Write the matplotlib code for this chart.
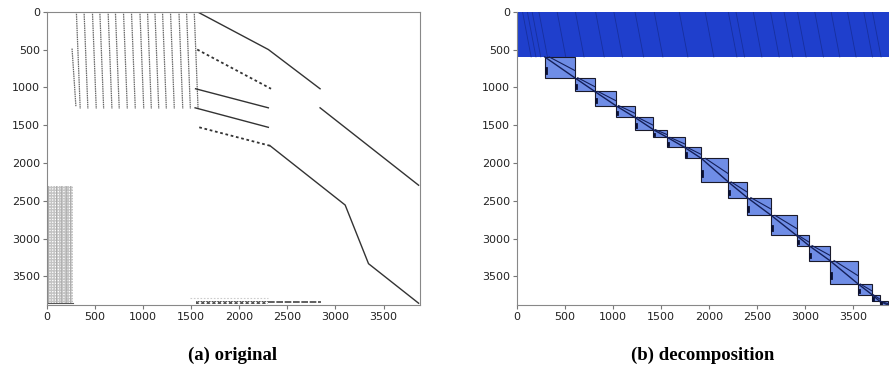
import matplotlib.pyplot as plt
from matplotlib.patches import Rectangle

N = 3880  # 矩阵阶数

# (a) 原始矩阵
# 左上角斜线簇：顶部列号，底部列号 = 顶部 + 偏移
slant_cols = [305, 385, 472, 549, 635, 711, 795, 878, 966, 1045, 1122, 1201, 1284, 1372, 1451, 1531]
slant_top, slant_bottom, slant_shift = 0, 1285, 40
short_line = [(260, 487), (300, 1250)]  # (列, 行)

# 实线折线 (列, 行)
solid_paths = [
    [(1562, 0), (2302, 500), (2840, 1019)],
    [(2840, 1271), (3865, 2295)],
    [(1545, 1019), (2302, 1271)],
    [(1540, 1271), (2302, 1529)],
    [(2320, 1773), (3101, 2557), (3344, 3333), (3865, 3856)],
]
# 点线
dotted_paths = [
    [(1562, 500), (2330, 1019)],
    [(1583, 1529), (2320, 1773)],
]
faint_paths = [
    [(1486, 3790), (2302, 3790)],
]
dashed_paths = [
    [(2302, 3835), (2854, 3835)],
]
# 左下网格块 (列0, 行0, 列1, 行1)
grid_block = (0, 2300, 271, 3856)
grid_vcols = [10, 94, 146, 200, 240]
# 底部交叉带
zigzag_block = (1552, 3825, 2302, 3862)

# (b) 分解
band = (0, 0, N, 600)
band_strokes = [60, 110, 160, 230, 420, 610, 820, 1010, 1230, 1430, 1690, 1960, 2200, 2280, 2460, 2640, 2780, 2920, 3100, 3270, 3440, 3610, 3700]
# 对角块边界（列）与（行）
block_cols = [291, 603, 811, 1029, 1227, 1421, 1566, 1746, 1920, 2200, 2398, 2647, 2911, 3039, 3257, 3552, 3697, 3777, 3865]
block_rows = [598, 873, 1054, 1241, 1396, 1560, 1662, 1794, 1940, 2251, 2459, 2694, 2960, 3093, 3292, 3602, 3744, 3832, 3880]

fig = plt.figure(figsize=(8.89, 3.70), dpi=100)
ax1 = fig.add_axes([47 / 889, 65 / 370, 373 / 889, 293.3 / 370])
ax2 = fig.add_axes([516.7 / 889, 65 / 370, 373 / 889, 293.3 / 370])

for c in slant_cols:
    ax1.plot([c, c + slant_shift], [slant_top, slant_bottom], color='#666666', lw=0.9, ls=(0, (1.2, 0.6)))
ax1.plot([p[0] for p in short_line], [p[1] for p in short_line], color='#666666', lw=0.9, ls=(0, (1.2, 0.6)))
for path in solid_paths:
    ax1.plot([p[0] for p in path], [p[1] for p in path], color='#333333', lw=1.0)
for path in dotted_paths:
    ax1.plot([p[0] for p in path], [p[1] for p in path], color='#333333', lw=1.3, ls=(0, (1.5, 1.5)))
for path in faint_paths:
    ax1.plot([p[0] for p in path], [p[1] for p in path], color='#cccccc', lw=0.8, ls=(0, (1.5, 1.5)))
for path in dashed_paths:
    ax1.plot([p[0] for p in path], [p[1] for p in path], color='#444444', lw=1.2, ls=(0, (4, 1)))

c0, r0, c1, r1 = grid_block
ax1.add_patch(Rectangle((c0, r0), c1 - c0, r1 - r0, facecolor='none', edgecolor='#c4c4c4', hatch='++++++', lw=0))
for c in grid_vcols:
    ax1.plot([c, c], [r0, r1], color='#aaaaaa', lw=0.6)
ax1.plot([c0, c1], [r1, r1], color='#555555', lw=0.8)
c0, r0, c1, r1 = zigzag_block
ax1.add_patch(Rectangle((c0, r0), c1 - c0, r1 - r0, facecolor='none', edgecolor='#555555', hatch='xxxxxx', lw=0))

c0, r0, c1, r1 = band
ax2.add_patch(Rectangle((c0, r0), c1 - c0, r1 - r0, facecolor='#1f3fcc', edgecolor='none'))
for c in band_strokes:
    ax2.plot([c, c + 90], [0, 600], color='#102070', lw=0.6, alpha=0.5)
for i in range(len(block_cols) - 1):
    x0, x1 = block_cols[i], block_cols[i + 1]
    y0, y1 = block_rows[i], block_rows[i + 1]
    w, h = x1 - x0, y1 - y0
    ax2.add_patch(Rectangle((x0, y0), w, h, facecolor='#6f8de6', edgecolor='#1a1a2a', lw=0.8))
    ax2.plot([x0, x1], [y0, y1], color='#14205a', lw=1.0)
    ax2.plot([x0 + 0.15 * w, x1], [y0, y0 + 0.65 * h], color='#14205a', lw=0.8)
    ax2.plot([x0 + 10, x0 + 10], [y0 + 0.55 * h, y0 + 0.75 * h], color='#0a0f30', lw=2)

for ax in (ax1, ax2):
    ax.set_xlim(-0.5, N - 0.5)
    ax.set_ylim(N - 0.5, -0.5)
    ax.set_xticks([0, 500, 1000, 1500, 2000, 2500, 3000, 3500])
    ax.set_yticks([0, 500, 1000, 1500, 2000, 2500, 3000, 3500])
    ax.tick_params(labelsize=8, length=3, color='#777777', labelcolor='#222222', pad=2)
    for s in ax.spines.values():
        s.set_color('#888888')
        s.set_linewidth(0.8)
ax2.spines['right'].set_visible(False)
ax2.spines['top'].set_visible(False)

fig.text(233 / 889, 1 - 355 / 370, '(a) original', ha='center', va='center',
         family='Liberation Serif', weight='bold', fontsize=13.5)
fig.text(703 / 889, 1 - 355 / 370, '(b) decomposition', ha='center', va='center',
         family='Liberation Serif', weight='bold', fontsize=13.5)

plt.savefig('out.png', dpi=100)
